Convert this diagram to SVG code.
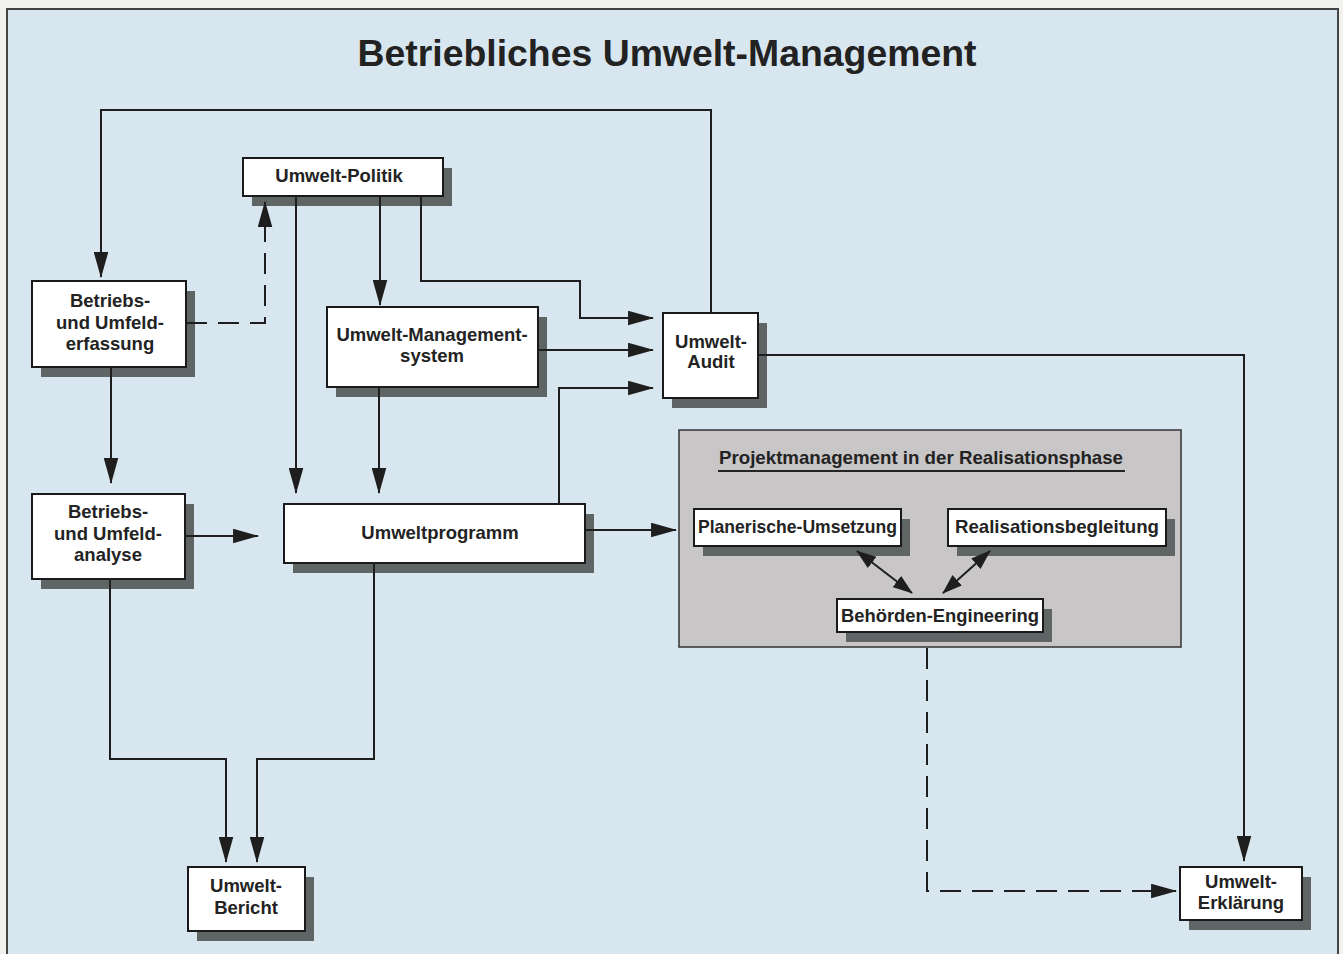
<svg xmlns="http://www.w3.org/2000/svg" width="1343" height="954" viewBox="0 0 1343 954">
<defs>
<marker id="ah" markerUnits="userSpaceOnUse" markerWidth="26" markerHeight="15" viewBox="0 0 25 14" refX="24" refY="7" orient="auto"><path d="M0,0 L25,7 L0,14 z" fill="#1e1e1e"/></marker>
<marker id="as" markerUnits="userSpaceOnUse" markerWidth="20" markerHeight="14" viewBox="0 0 20 14" refX="19" refY="7" orient="auto-start-reverse"><path d="M0,0 L20,7 L0,14 z" fill="#1e1e1e"/></marker>
</defs>
<style>
.box{fill:#ffffff;stroke:#1a1a1a;stroke-width:2}
.sh{fill:#5f6464}
.t{font-family:"Liberation Sans",Arial,sans-serif;font-weight:bold;font-size:18.5px;fill:#232323;text-anchor:middle}
.c{fill:none;stroke:#1e1e1e;stroke-width:2}
.d{stroke-dasharray:21 11}
.a{marker-end:url(#ah)}
</style>
<rect x="0" y="0" width="1343" height="954" fill="#f1f1ed"/>
<rect x="7" y="9" width="1331" height="960" fill="#d8e6ef" stroke="#444" stroke-width="2"/>
<text x="667" y="66" font-family="Liberation Sans,Arial,sans-serif" font-weight="bold" font-size="36" fill="#222" text-anchor="middle" textLength="619" lengthAdjust="spacingAndGlyphs">Betriebliches Umwelt-Management</text>

<g id="politik"><rect class="sh" x="252" y="168" width="200" height="38"/><rect class="box" x="243" y="158" width="200" height="38"/><text class="t" x="339" y="182">Umwelt-Politik</text></g>
<g id="erfassung"><rect class="sh" x="41" y="291" width="154" height="86"/><rect class="box" x="32" y="281" width="154" height="86"/><text class="t" x="110" y="307">Betriebs-</text><text class="t" x="110" y="329">und Umfeld-</text><text class="t" x="110" y="350">erfassung</text></g>
<g id="managementsystem"><rect class="sh" x="336" y="317" width="211" height="80"/><rect class="box" x="327" y="307" width="211" height="80"/><text class="t" x="432" y="341">Umwelt-Management-</text><text class="t" x="432" y="362">system</text></g>
<g id="audit"><rect class="sh" x="672" y="323" width="95" height="85"/><rect class="box" x="663" y="313" width="95" height="85"/><text class="t" x="711" y="348">Umwelt-</text><text class="t" x="711" y="368">Audit</text></g>
<g id="analyse"><rect class="sh" x="41" y="504" width="153" height="85"/><rect class="box" x="32" y="494" width="153" height="85"/><text class="t" x="108" y="518">Betriebs-</text><text class="t" x="108" y="540">und Umfeld-</text><text class="t" x="108" y="561">analyse</text></g>
<g id="umweltprogramm"><rect class="sh" x="293" y="514" width="301" height="59"/><rect class="box" x="284" y="504" width="301" height="59"/><text class="t" x="440" y="539">Umweltprogramm</text></g>
<g id="bericht"><rect class="sh" x="197" y="877" width="117" height="64"/><rect class="box" x="188" y="867" width="117" height="64"/><text class="t" x="246" y="892">Umwelt-</text><text class="t" x="246" y="914">Bericht</text></g>
<g id="erklaerung"><rect class="sh" x="1189" y="877" width="122" height="53"/><rect class="box" x="1180" y="867" width="122" height="53"/><text class="t" x="1241" y="888">Umwelt-</text><text class="t" x="1241" y="909">Erklärung</text></g>
<g id="projektmanagement"><rect x="679" y="430" width="502" height="217" fill="#c8c6c7" stroke="#333" stroke-width="1.5"/><text class="t" x="921" y="464" textLength="404" lengthAdjust="spacingAndGlyphs">Projektmanagement in der Realisationsphase</text><line x1="718" y1="471" x2="1125" y2="471" stroke="#232323" stroke-width="2"/></g>
<g id="planerische"><rect class="sh" x="703" y="519" width="207" height="37"/><rect class="box" x="694" y="509" width="207" height="37"/><text class="t" x="797.5" y="533" textLength="199" lengthAdjust="spacingAndGlyphs">Planerische-Umsetzung</text></g>
<g id="realisation"><rect class="sh" x="957" y="519" width="218" height="37"/><rect class="box" x="948" y="509" width="218" height="37"/><text class="t" x="1057" y="533" textLength="204" lengthAdjust="spacingAndGlyphs">Realisationsbegleitung</text></g>
<g id="behoerden"><rect class="sh" x="846" y="609" width="206" height="33"/><rect class="box" x="837" y="599" width="206" height="33"/><text class="t" x="940" y="622" textLength="198" lengthAdjust="spacingAndGlyphs">Behörden-Engineering</text></g>

<g id="connectors">
<path class="c a" d="M711,313 V110 H101 V277"/>
<path class="c d a" d="M186,323 H265 V202"/>
<path class="c a" d="M380,196 V305"/>
<path class="c a" d="M296,196 V493"/>
<path class="c a" d="M421,196 V281 H580 V318 H653"/>
<path class="c a" d="M538,350 H653"/>
<path class="c a" d="M559,504 V388 H653"/>
<path class="c a" d="M111,367 V483"/>
<path class="c a" d="M379,387 V493"/>
<path class="c a" d="M185,536 H258"/>
<path class="c a" d="M585,530 H676"/>
<path class="c a" d="M110,579 V759 H226 V862"/>
<path class="c a" d="M374,563 V759 H257 V862"/>
<path class="c a" d="M758,355 H1244 V861"/>
<path class="c d a" d="M927,648 V891 H1176"/>
<line class="c" x1="857" y1="551" x2="912" y2="593" stroke-width="3" marker-start="url(#as)" marker-end="url(#as)"/>
<line class="c" x1="990" y1="551" x2="943" y2="593" stroke-width="3" marker-start="url(#as)" marker-end="url(#as)"/>
</g>
</svg>
